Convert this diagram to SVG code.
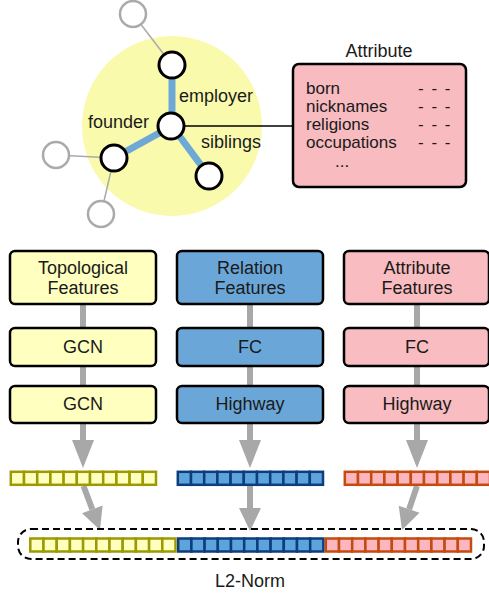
<svg xmlns="http://www.w3.org/2000/svg" xmlns:xlink="http://www.w3.org/1999/xlink" width="489" height="596" viewBox="0 0 489 596">
<style>
text{font-family:"Liberation Sans",Arial,sans-serif;font-size:18px;fill:#1a1a1a}
.c{text-anchor:middle}
.row{font-size:17px}
.box{stroke:#000;stroke-width:2.5}
.yel{fill:#ffffc0}
.blu{fill:#6aa7d8}
.pnk{fill:#f9bcc0}
.gn{fill:#fff;stroke:#aaa;stroke-width:2.5}
.bn{fill:#fff;stroke:#000;stroke-width:3}
.ge{stroke:#aaa;stroke-width:1.5}
.be{stroke:#6ea8d5;stroke-width:7}
.sh{stroke:#a8a8a8;stroke-width:6;fill:none}
.hd{fill:#a8a8a8}
.dash{font-size:17px;text-anchor:end;letter-spacing:1.5px}
</style>
<defs>
<g id="vec">
<rect x="0" y="0" width="13.2" height="13"/><rect x="13.2" y="0" width="13.2" height="13"/><rect x="26.4" y="0" width="13.2" height="13"/><rect x="39.6" y="0" width="13.2" height="13"/><rect x="52.8" y="0" width="13.2" height="13"/><rect x="66" y="0" width="13.2" height="13"/><rect x="79.2" y="0" width="13.2" height="13"/><rect x="92.4" y="0" width="13.2" height="13"/><rect x="105.6" y="0" width="13.2" height="13"/><rect x="118.8" y="0" width="13.2" height="13"/><rect x="132" y="0" width="13.2" height="13"/>
</g>
</defs>
<rect width="489" height="596" fill="#fff"/>
<g id="neighborhood"><circle cx="172" cy="126" r="90" fill="#fafaad"/></g>
<g id="connectors">
<line class="ge" x1="133" y1="14" x2="172" y2="65"/>
<line class="ge" x1="56" y1="155" x2="114" y2="158"/>
<line class="ge" x1="101" y1="214" x2="114" y2="158"/>
<line class="be" x1="172" y1="126" x2="172" y2="65"/>
<line class="be" x1="172" y1="126" x2="114" y2="158"/>
<line class="be" x1="172" y1="126" x2="209" y2="176"/>
<line stroke="#000" stroke-width="1.5" x1="172" y1="126" x2="294" y2="126"/>
<path class="sh" d="M83 304V328M83 366V386M83 423V442M250 304V328M250 366V386M250 423V442M417 304V328M417 366V386M417 423V442"/>
<path class="hd" d="M72 440H94L83 468ZM239 440H261L250 468ZM406 440H428L417 468Z"/>
<path class="sh" d="M83.5 486L92.3 509.4M250 486V510M417 486L409.1 509.2"/>
<path class="hd" d="M82 513.3L102.6 505.5L100 530ZM239 508H261L250 531ZM419.5 512.8L398.7 505.7L402 530Z"/>
</g>
<g id="n-top-gray"><circle class="gn" cx="133" cy="14" r="13"/></g>
<g id="n-left-gray"><circle class="gn" cx="56" cy="155" r="13"/></g>
<g id="n-bottom-gray"><circle class="gn" cx="101" cy="214" r="13"/></g>
<g id="n-employer"><circle class="bn" cx="172" cy="65" r="13"/></g>
<g id="n-founder"><circle class="bn" cx="114" cy="158" r="13"/></g>
<g id="n-siblings"><circle class="bn" cx="209" cy="176" r="13"/></g>
<g id="n-center"><circle class="bn" cx="171" cy="126" r="13"/></g>
<g id="edge-labels">
<text x="179" y="102">employer</text>
<text x="88" y="128">founder</text>
<text x="201" y="148">siblings</text>
</g>
<g id="attribute">
<text class="c" x="379" y="57">Attribute</text>
<rect x="293" y="64" width="173" height="123" rx="6" fill="#f8bbc0" stroke="#000" stroke-width="2.5"/>
<text class="row" x="306" y="94">born</text>
<text class="row" x="306" y="112">nicknames</text>
<text class="row" x="306" y="130">religions</text>
<text class="row" x="306" y="148">occupations</text>
<text class="row" x="335" y="167">...</text>
<text class="dash" x="452" y="94">- - -</text>
<text class="dash" x="452" y="112">- - -</text>
<text class="dash" x="452" y="130">- - -</text>
<text class="dash" x="452" y="148">- - -</text>
</g>
<g id="topo-features"><rect class="box yel" x="10" y="251" width="146" height="53" rx="5"/><text class="c" x="83" y="274">Topological</text><text class="c" x="83" y="294">Features</text></g>
<g id="rel-features"><rect class="box blu" x="177" y="251" width="146" height="53" rx="5"/><text class="c" x="250" y="274">Relation</text><text class="c" x="250" y="294">Features</text></g>
<g id="attr-features"><rect class="box pnk" x="344" y="251" width="145" height="53" rx="5"/><text class="c" x="417" y="274">Attribute</text><text class="c" x="417" y="294">Features</text></g>
<g id="gcn1"><rect class="box yel" x="10" y="328" width="146" height="38" rx="5"/><text class="c" x="83" y="353">GCN</text></g>
<g id="fc-rel"><rect class="box blu" x="177" y="328" width="146" height="38" rx="5"/><text class="c" x="250" y="353">FC</text></g>
<g id="fc-attr"><rect class="box pnk" x="344" y="328" width="145" height="38" rx="5"/><text class="c" x="417" y="353">FC</text></g>
<g id="gcn2"><rect class="box yel" x="10" y="386" width="146" height="37" rx="5"/><text class="c" x="83" y="410">GCN</text></g>
<g id="hw-rel"><rect class="box blu" x="177" y="386" width="146" height="37" rx="5"/><text class="c" x="250" y="410">Highway</text></g>
<g id="hw-attr"><rect class="box pnk" x="344" y="386" width="145" height="37" rx="5"/><text class="c" x="417" y="410">Highway</text></g>
<g id="vec-topo"><use xlink:href="#vec" x="10.8" y="471.8" fill="#ffffc0" stroke="#9c9a00" stroke-width="2.5"/></g>
<g id="vec-rel"><use xlink:href="#vec" x="177.8" y="471.8" fill="#5ea4dc" stroke="#0d3d7d" stroke-width="2.5"/></g>
<g id="vec-attr"><use xlink:href="#vec" x="344.8" y="471.8" fill="#fbb6c0" stroke="#c44a0e" stroke-width="2.5"/></g>
<g id="l2norm">
<rect x="18" y="529" width="466" height="30" rx="13" fill="none" stroke="#000" stroke-width="2" stroke-dasharray="7 4"/>
<use xlink:href="#vec" x="30.3" y="538.5" fill="#ffffc0" stroke="#9c9a00" stroke-width="2.5"/>
<use xlink:href="#vec" x="178.2" y="538.5" fill="#5ea4dc" stroke="#0d3d7d" stroke-width="2.5"/>
<use xlink:href="#vec" x="325.8" y="538.5" fill="#fbb6c0" stroke="#c44a0e" stroke-width="2.5"/>
<text class="c" x="250" y="587">L2-Norm</text>
</g>
</svg>
